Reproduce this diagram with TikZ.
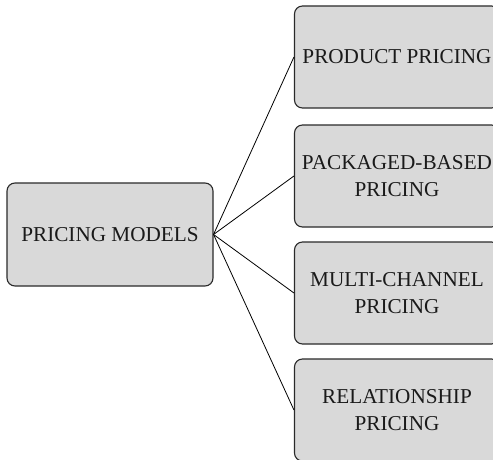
\documentclass[tikz,border=0pt]{standalone}
\usepackage{fontspec}
\setmainfont{Liberation Serif}
\definecolor{boxfill}{HTML}{D9D9D9}
\definecolor{boxline}{HTML}{2A2A2A}
\definecolor{txt}{HTML}{1A1A1A}
\begin{document}
\begin{tikzpicture}[x=1pt,y=1pt,
  box/.style={draw=boxline, line width=1.1pt, fill=boxfill, rounded corners=8pt,
    minimum width=205pt, minimum height=102pt, inner sep=0pt, align=center,
    text=txt, font=\fontsize{21.2}{27}\selectfont},
  link/.style={draw=black, line width=0.8pt}]
\useasboundingbox (0,0) rectangle (493,459);
\begin{scope}
\clip (0,0) rectangle (493,459);
\node[box, minimum width=206pt, minimum height=103pt] (root) at (110,224.5) {PRICING MODELS};
\node[box] (p1) at (397,402) {PRODUCT PRICING};
\node[box] (p2) at (397,283) {PACKAGED-BASED\\PRICING};
\node[box] (p3) at (397,166) {MULTI-CHANNEL\\PRICING};
\node[box] (p4) at (397,49) {RELATIONSHIP\\PRICING};
\foreach \n in {p1,p2,p3,p4}
  \draw[link] (root.east) -- (\n.west);
\end{scope}
\end{tikzpicture}
\end{document}
